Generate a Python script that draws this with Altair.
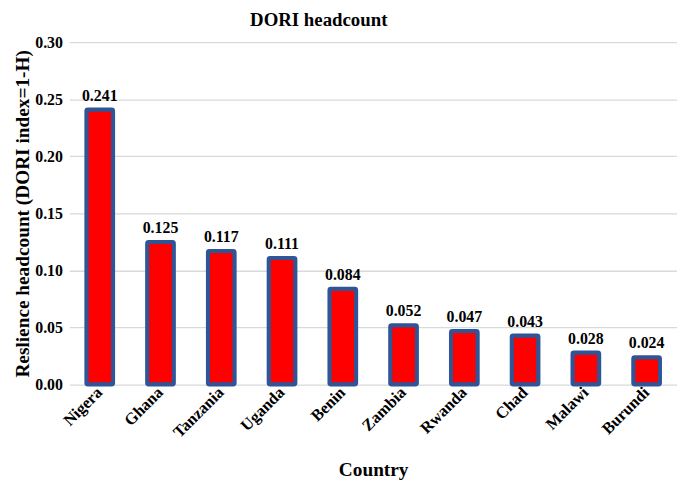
import altair as alt
import pandas as pd

countries = ["Nigera", "Ghana", "Tanzania", "Uganda", "Benin", "Zambia", "Rwanda", "Chad", "Malawi", "Burundi"]
values = [0.241, 0.125, 0.117, 0.111, 0.084, 0.052, 0.047, 0.043, 0.028, 0.024]
y_ticks = [0.0, 0.05, 0.10, 0.15, 0.20, 0.25, 0.30]

df = pd.DataFrame({"Country": countries, "Value": values})
df["Label"] = [f"{v:.3f}" for v in values]

FONT = "Liberation Serif"

base = alt.Chart(df).encode(
    x=alt.X("Country:N", sort=countries, title="Country",
            scale=alt.Scale(paddingInner=0.56, paddingOuter=0.28),
            axis=alt.Axis(labelAngle=-45, labelFont=FONT, labelFontSize=16.5, labelFontWeight="bold",
                          labelColor="black", titleFont=FONT, titleFontSize=19.5, titleFontWeight="bold",
                          titleColor="black", ticks=False, domain=False, labelPadding=5, titlePadding=20,
                          labelAlign="right", labelBaseline="middle")),
    y=alt.Y("Value:Q", title="Reslience headcount (DORI index=1-H)",
            scale=alt.Scale(domain=[0, 0.30]),
            axis=alt.Axis(values=y_ticks, format=".2f", labelFont=FONT, labelFontSize=16,
                          labelFontWeight="bold", labelColor="black", titleFont=FONT, titleFontSize=19.5,
                          titleFontWeight="bold", titleColor="black", ticks=False, domain=False,
                          gridColor="#d9d9d9", gridWidth=1.3, labelPadding=7, titlePadding=2)),
)

bars = base.mark_bar(color="#ff0000", stroke="#2f5597", strokeWidth=4, cornerRadius=1.5)
labels = base.mark_text(dy=-14, font=FONT, fontSize=16, fontWeight="bold", color="black").encode(text="Label:N")

chart = (bars + labels).properties(
    width=614, height=346,
    title=alt.TitleParams("DORI headcount", font=FONT, fontSize=19, fontWeight="bold", color="black",
                          anchor="middle", offset=4, dx=-55),
    autosize=alt.AutoSizeParams(type="none"),
    padding={"left": 62, "top": 32, "right": 0, "bottom": 99},
).configure_view(stroke=None)

chart.save("out.html", embed_options={"renderer": "svg", "actions": False})
